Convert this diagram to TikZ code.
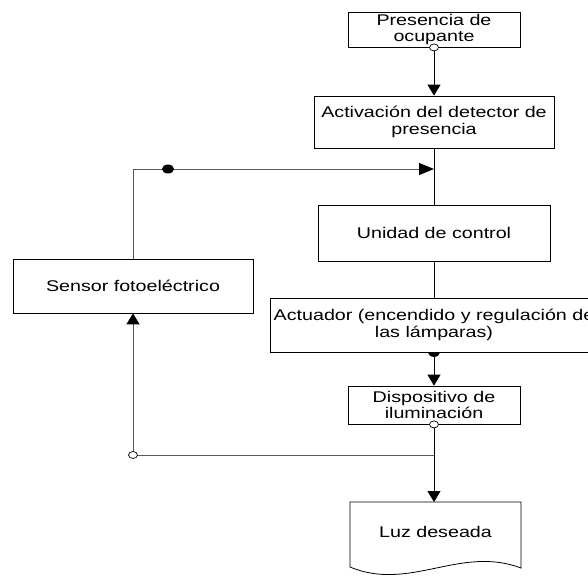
\documentclass[tikz,border=0pt]{standalone}
\usepackage{fontspec}
\newfontfamily\af[FakeStretch=1.27]{Liberation Sans}
\usetikzlibrary{arrows.meta,calc}
\begin{document}
\begin{tikzpicture}[x=1pt,y=-1pt,
  boxn/.style={draw=black,line width=0.8pt,fill=white,align=center,inner sep=0pt,
    font=\af\fontsize{15.5}{16.7}\selectfont},
  conn/.style={line width=0.9pt,draw=black},
  fb/.style={line width=1pt,draw=black!65},
  tip/.style={-{Triangle[width=13pt,length=11pt,color=black]}},
  tipr/.style={-{Triangle[width=12pt,length=15pt,color=black]}},
  ocirc/.style={draw=black,line width=0.7pt,fill=white}
]
\useasboundingbox (0,0) rectangle (588,576);
\fill[white] (0,0) rectangle (588,576);

\node[boxn,minimum width=172pt,minimum height=35pt] (p1) at (434,29.5) {Presencia de\\ocupante};
\node[boxn,minimum width=240pt,minimum height=52pt] (p2) at (434,122) {Activación del detector de\\presencia};
\node[boxn,minimum width=232pt,minimum height=56pt] (p3) at (434,233) {Unidad de control};
\node[boxn,minimum width=328pt,minimum height=54pt] (p4) at (434,325) {Actuador (encendido y regulación de\\las lámparas)};
\node[boxn,minimum width=172pt,minimum height=38pt] (p5) at (434,405) {Dispositivo de\\iluminación};
\node[boxn,minimum width=240pt,minimum height=54pt] (s) at (133,286) {Sensor fotoeléctrico};

% document shape
\draw[line width=0.8pt,fill=white] (350,502) -- (521,502) -- (521,568)
  .. controls (460,545) and (410,592) .. (350,567) -- cycle;
\node[font=\af\fontsize{15.5}{16.7}\selectfont,inner sep=0pt] (p6) at (435.5,532) {Luz deseada};
\coordinate (p6n) at (434,502);

% coordinates
\coordinate (j1) at (434,169);
\coordinate (j2) at (434,455);
\coordinate (c1) at (133,169);
\coordinate (c2) at (133,455);
\coordinate (d1) at (168,169);

% main chain
\draw[conn,tip] (p1.south) -- (p2.north);
\draw[conn] (p2.south) -- (p3.north);
\draw[conn] (p3.south) -- (p4.north);
\draw[conn,tip] (p4.south) -- (p5.north);
\draw[conn,tip] (p5.south) -- (p6n);

% feedback
\draw[fb,tip] (j2) -- (c2) -- (s.south);
\draw[fb,tipr] (s.north) -- (c1) -- (j1);

% markers
\draw[ocirc] (p1.south) ellipse (4.5pt and 3.5pt);
\draw[ocirc] (p5.south) ellipse (4.5pt and 3.5pt);
\draw[ocirc] (c2) ellipse (4.5pt and 3.5pt);
\fill[black] (d1) ellipse (6pt and 4.5pt);
\fill[black] ($(p4.south)+(-6,0)$) arc[start angle=180,end angle=360,x radius=6pt,y radius=4.5pt] -- cycle;
\end{tikzpicture}
\end{document}
